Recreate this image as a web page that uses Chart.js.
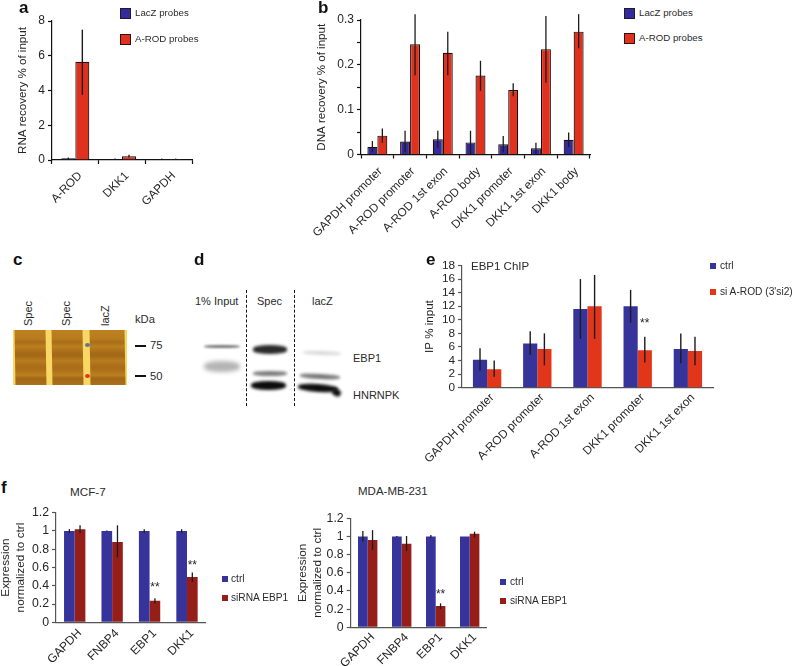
<!DOCTYPE html>
<html>
<head>
<meta charset="utf-8">
<script src="https://cdn.jsdelivr.net/npm/chart.js@4"></script>
<style>
html,body{margin:0;padding:0;background:#fff;width:792px;height:666px;overflow:hidden;font-family:"Liberation Sans",Arial,sans-serif;color:#2b2b2b}
#page{position:absolute;left:0;top:0;width:792px;height:666px;background:#fff;filter:blur(.35px)}
canvas{position:absolute}
.t{position:absolute;white-space:nowrap;line-height:1}
.b{font-weight:bold;font-size:17px;color:#111}
.sw{position:absolute}
.band{position:absolute;border-radius:50%/40%}
.lane{position:absolute;top:330px;height:55px;transform:skewX(1deg);
background:linear-gradient(180deg,#bd801f 0,#b87c1e 16%,#a86d18 22%,#bb7f20 30%,#a56a17 42%,#a36917 47%,#b87b1e 56%,#aa6e18 66%,#ab7019 72%,#bb7f20 82%,#a26816 88%,#aa6f19 100%)}
</style>
</head>
<body>
<div id="page"></div>
<script>
const aCats = ["A-ROD","DKK1","GAPDH"];
const aLacZ = [0.1,0.06,0.06];
const aRod = [5.65,0.22,0.06];
const aLacZLow = [0.05,0.04,0.04];
const aLacZHigh = [0.14,0.08,0.08];
const aRodLow = [3.75,0.15,0.04];
const aRodHigh = [7.5,0.3,0.08];

const bCats = ["GAPDH promoter","A-ROD promoter","A-ROD 1st exon","A-ROD body","DKK1 promoter","DKK1 1st exon","DKK1 body"];
const bLacZ = [0.017,0.029,0.034,0.027,0.023,0.014,0.033];
const bRod = [0.042,0.246,0.227,0.176,0.144,0.235,0.274];
const bLacZLow = [0.005,0.005,0.015,0.001,0.005,0.002,0.017];
const bLacZHigh = [0.030,0.053,0.053,0.053,0.041,0.026,0.049];
const bRodLow = [0.026,0.177,0.177,0.142,0.130,0.160,0.237];
const bRodHigh = [0.058,0.313,0.274,0.209,0.159,0.309,0.313];

const eCats = ["GAPDH promoter","A-ROD promoter","A-ROD 1st exon","DKK1 promoter","DKK1 1st exon"];
const eCtrl = [4.1,6.5,11.6,12,5.7];
const eSi = [2.7,5.7,12,5.5,5.4];
const eCtrlLow = [2.5,4.8,7.2,9.6,3.6];
const eCtrlHigh = [5.8,8.3,16,14.4,8];
const eSiLow = [1.6,3.3,7.2,3.7,3.3];
const eSiHigh = [4,8,16.6,7.5,7.5];

const fCats = ["GAPDH","FNBP4","EBP1","DKK1"];
const f1Ctrl = [1,1,1,1];
const f1Si = [1.02,0.88,0.235,0.495];
const f1CtrlLow = [0.98,0.995,0.98,0.98];
const f1CtrlHigh = [1.02,1.005,1.02,1.02];
const f1SiLow = [0.975,0.71,0.205,0.44];
const f1SiHigh = [1.062,1.062,0.263,0.544];

const f2Ctrl = [1,1,1,1];
const f2Si = [0.96,0.92,0.235,1.03];
const f2CtrlLow = [0.945,0.995,0.985,1];
const f2CtrlHigh = [1.06,1.005,1.015,1];
const f2SiLow = [0.85,0.84,0.2,0.987];
const f2SiHigh = [1.07,1.005,0.264,1.053];

const FONT = '"Liberation Sans", Arial, sans-serif';
const INK = '#262626';
const page = document.getElementById('page');

const errorBars = {
  id:'errorBars',
  afterDatasetsDraw(chart,_,o){
    const {ctx,scales:{y}} = chart;
    ctx.save();
    ctx.strokeStyle='#1c1c1c'; ctx.lineWidth=o.w||1.3;
    o.ranges.forEach((r,d)=>{
      chart.getDatasetMeta(d).data.forEach((bar,i)=>{
        ctx.beginPath();
        ctx.moveTo(bar.x,y.getPixelForValue(r[0][i]));
        ctx.lineTo(bar.x,y.getPixelForValue(r[1][i]));
        ctx.stroke();
      });
    });
    (o.stars||[]).forEach(s=>{
      const bar = chart.getDatasetMeta(s.d).data[s.i];
      ctx.fillStyle=INK; ctx.font='12px '+FONT; ctx.textAlign='center'; ctx.textBaseline='middle';
      ctx.fillText('**',bar.x,y.getPixelForValue(s.v)+2);
    });
    ctx.restore();
  }
};

function panel(p){
  const c = document.createElement('canvas');
  c.style.left=p.box[0]+'px'; c.style.top=p.box[1]+'px';
  c.width=p.box[2]; c.height=p.box[3];
  c.style.width=p.box[2]+'px'; c.style.height=p.box[3]+'px';
  page.appendChild(c);
  const border = p.border?{borderColor:'#1e0f0d',borderWidth:1.2}:{borderWidth:0};
  new Chart(c,{
    type:'bar',
    plugins:[errorBars],
    data:{labels:p.labels,datasets:p.series.map(s=>({label:s.name,data:s.data,backgroundColor:s.color,...border,categoryPercentage:p.cat,barPercentage:1}))},
    options:{
      responsive:false,animation:false,
      layout:{padding:{left:0,bottom:0,top:p.plot.t-p.box[1],right:p.box[0]+p.box[2]-p.plot.r}},
      plugins:{legend:{display:false},tooltip:{enabled:false},errorBars:{ranges:p.ranges,stars:p.stars,w:p.ew}},
      scales:{
        x:{
          afterFit(s){s.height=p.box[1]+p.box[3]-p.plot.b;s.paddingLeft=0;s.paddingRight=0;},
          border:{color:p.axis,width:1.2},
          grid:{drawOnChartArea:false,drawTicks:p.xticks,tickLength:4,tickColor:p.axis,tickWidth:1.2},
          ticks:{autoSkip:false,minRotation:45,maxRotation:45,color:INK,font:{family:FONT,size:p.xfont},padding:p.xpad,labelOffset:p.xoff}
        },
        y:{
          min:0,max:p.max,
          afterFit(s){s.width=p.plot.l-p.box[0];s.paddingTop=0;s.paddingBottom=0;},
          border:{color:p.axis,width:1.2},
          grid:{drawOnChartArea:false,drawTicks:true,tickLength:4,tickColor:p.axis,tickWidth:1.2},
          title:{display:true,text:p.ytitle,color:INK,font:{family:FONT,size:p.tfont,lineHeight:p.tlh+'px'},padding:{top:p.tpad||0,bottom:0}},
          ticks:{autoSkip:false,stepSize:p.step,color:INK,font:{family:FONT,size:p.yfont},padding:3,
            callback:p.yfmt}
        }
      }
    }
  });
}

const LAC='#36299a', ROD='#e0301e', CT='#36339b', SI='#e2361a', DK='#961e18';

panel({box:[17,0,190,230],plot:{l:52,t:21,r:192,b:160},labels:aCats,max:8,step:2,cat:0.6,border:true,axis:'#111',xticks:true,
  xfont:11.8,yfont:12,tfont:11.6,tlh:12,xpad:5,xoff:5,ytitle:'RNA recovery % of input',
  series:[{name:'LacZ probes',data:aLacZ,color:LAC},{name:'A-ROD probes',data:aRod,color:ROD}],
  ranges:[[aLacZLow,aLacZHigh],[aRodLow,aRodHigh]],ew:1.4,
  yfmt:v=>String(v)});

panel({box:[304,0,297,250],plot:{l:361,t:20,r:590,b:154.5},labels:bCats,max:0.3,step:0.05,cat:0.61,border:true,axis:'#111',xticks:true,tpad:12,
  xfont:11.8,yfont:12,tfont:11.6,tlh:12,xpad:6,xoff:3,ytitle:'DNA recovery % of input',
  series:[{name:'LacZ probes',data:bLacZ,color:LAC},{name:'A-ROD probes',data:bRod,color:ROD}],
  ranges:[[bLacZLow,bLacZHigh],[bRodLow,bRodHigh]],ew:1.3,
  yfmt:v=>{const r=Math.round(v*100);return r%10===0?(r===0?'0':(r/100).toFixed(1)):'';}});

panel({box:[414,258,310,225],plot:{l:462,t:265.5,r:713,b:387.7},labels:eCats,max:18,step:2,cat:0.565,border:false,axis:'#555',xticks:false,tpad:10,
  xfont:11.8,yfont:11.8,tfont:11.6,tlh:12,xpad:3,xoff:5,ytitle:'IP % input',
  series:[{name:'ctrl',data:eCtrl,color:CT},{name:'si A-ROD (3\'si2)',data:eSi,color:SI}],
  ranges:[[eCtrlLow,eCtrlHigh],[eSiLow,eSiHigh]],ew:1.4,stars:[{d:1,i:3,v:9.7}],
  yfmt:v=>String(v)});

panel({box:[-2,505,215,161],plot:{l:56,t:512.7,r:205.7,b:622.3},labels:fCats,max:1.2,step:0.2,cat:0.57,border:false,axis:'#555',xticks:false,
  xfont:12,yfont:12.3,tfont:11.8,tlh:15,xpad:4,xoff:5,ytitle:['Expression','normalized to ctrl'],
  series:[{name:'ctrl',data:f1Ctrl,color:CT},{name:'siRNA EBP1',data:f1Si,color:DK}],
  ranges:[[f1CtrlLow,f1CtrlHigh],[f1SiLow,f1SiHigh]],ew:1.3,stars:[{d:1,i:2,v:0.4},{d:1,i:3,v:0.645}],
  yfmt:v=>String(Math.round(v*10)/10)});

panel({box:[295,510,200,156],plot:{l:350.7,t:518.3,r:486.7,b:627.3},labels:fCats,max:1.2,step:0.2,cat:0.57,border:false,axis:'#555',xticks:false,
  xfont:12,yfont:12.3,tfont:11.8,tlh:15,xpad:3,xoff:5,ytitle:['Expression','normalized to ctrl'],
  series:[{name:'ctrl',data:f2Ctrl,color:CT},{name:'siRNA EBP1',data:f2Si,color:DK}],
  ranges:[[f2CtrlLow,f2CtrlHigh],[f2SiLow,f2SiHigh]],ew:1.3,stars:[{d:1,i:2,v:0.385}],
  yfmt:v=>String(Math.round(v*10)/10)});

function text(s,x,cy,size,extra){
  const d=document.createElement('div'); d.className='t'; d.textContent=s;
  d.style.left=x+'px'; d.style.top=(cy-size/2)+'px'; d.style.fontSize=size+'px';
  if(extra) Object.assign(d.style,extra);
  page.appendChild(d); return d;
}
function swatch(x,cy,w,color,border){
  const d=document.createElement('div'); d.className='sw';
  d.style.cssText+=`left:${x}px;top:${cy-w/2}px;width:${w}px;height:${w}px;background:${color};`+(border?`box-sizing:border-box;border:1px solid ${border};`:'');
  page.appendChild(d);
}
function letter(s,x,cy){ const d=text(s,x,cy,17); d.classList.add('b'); }
letter('a',19,7); letter('b',318,7); letter('c',13,259); letter('d',194,259); letter('e',426,259); letter('f',1,487);

swatch(120,13,11,LAC,'#1d1a33'); text('LacZ probes',135,13,9.7);
swatch(120,39,11,ROD,'#33100c'); text('A-ROD probes',135,39,9.7);
swatch(624,13,11,LAC,'#1d1a33'); text('LacZ probes',639,13,9.7);
swatch(624,38,11,ROD,'#33100c'); text('A-ROD probes',639,38,9.7);
swatch(710,266,6,CT); text('ctrl',720,266,10.2);
swatch(710,292,6,SI); text("si A-ROD (3'si2)",720,292,10.2);
swatch(222,579,6,CT); text('ctrl',231,579,10.2);
swatch(222,598,6,DK); text('siRNA EBP1',231,598,10.2);
swatch(500,582,6,CT); text('ctrl',510,582,10.2);
swatch(500,601,6,DK); text('siRNA EBP1',510,601,10.2);

text('EBP1 ChIP',471,267,11.5);
text('MCF-7',70,492,11.7);
text('MDA-MB-231',358,492,11.5);

/* panel c: silver-stained gel */
const base=document.createElement('div');
base.style.cssText='position:absolute;left:13px;top:330px;width:114px;height:55px;background:#f8d765;filter:blur(.4px)';
page.appendChild(base);
[[15,31],[52,31],[90,35]].forEach(([x,w])=>{
  const l=document.createElement('div'); l.className='lane';
  l.style.left=x+'px'; l.style.width=w+'px'; l.style.filter='blur(.4px)'; page.appendChild(l);
});
[[87,344.5,'#5f7396'],[87,375.5,'#e2391a']].forEach(([x,y,col])=>{
  const d=document.createElement('div');
  d.style.cssText=`position:absolute;left:${x-2.5}px;top:${y-2}px;width:5px;height:4px;border-radius:50%;background:${col}`;
  page.appendChild(d);
});
function vtext(s,cx,bottom){
  const d=text(s,cx,bottom,11);
  d.style.transformOrigin='0 0';
  d.style.transform='rotate(-90deg)';
  d.style.left=(cx-5.5)+'px'; d.style.top=bottom+'px';
}
vtext('Spec',28,326); vtext('Spec',66,326); vtext('lacZ',105,326);
text('kDa',135,320,11.2);
text('75',150,345.5,11.2); text('50',150,376.5,11.2);
[345.7,376].forEach(y=>{
  const d=document.createElement('div');
  d.style.cssText=`position:absolute;left:135px;top:${y-1}px;width:11px;height:2px;background:#111`;
  page.appendChild(d);
});

/* panel d: western blot */
text('1% Input',195,301,11);
text('Spec',257,301,11);
text('lacZ',312,301,11);
text('EBP1',353,358,11);
text('HNRNPK',353,395,11);
[246,294].forEach(x=>{
  const d=document.createElement('div');
  d.style.cssText=`position:absolute;left:${x-0.5}px;top:290px;height:116px;border-left:1.2px dashed #111`;
  page.appendChild(d);
});
function band(x,y,w,h,col,blur,rot){
  const d=document.createElement('div'); d.className='band';
  d.style.cssText+=`left:${x}px;top:${y}px;width:${w}px;height:${h}px;background:${col};filter:blur(${blur}px);transform:rotate(${rot||0}deg)`;
  page.appendChild(d);
}
band(204,344.5,36,3,'#777',0.9);
band(204,360.5,36,11,'#b4b4b4',2.2);
band(253,344.5,34,9,'#2a2a2a',1.6);
band(253,371,34,5,'#7a7a7a',1.4);
band(251,380.5,35,9.5,'#0c0c0c',1.5);
band(303,350.5,38,4,'#d8d8d8',1.6,2);
band(300,374,40,5,'#747474',1.5,3);
band(298,384,40,8,'#0c0c0c',1.5,4);
band(332,389,9,7,'#111',1.4,30);
</script>
</body>
</html>
